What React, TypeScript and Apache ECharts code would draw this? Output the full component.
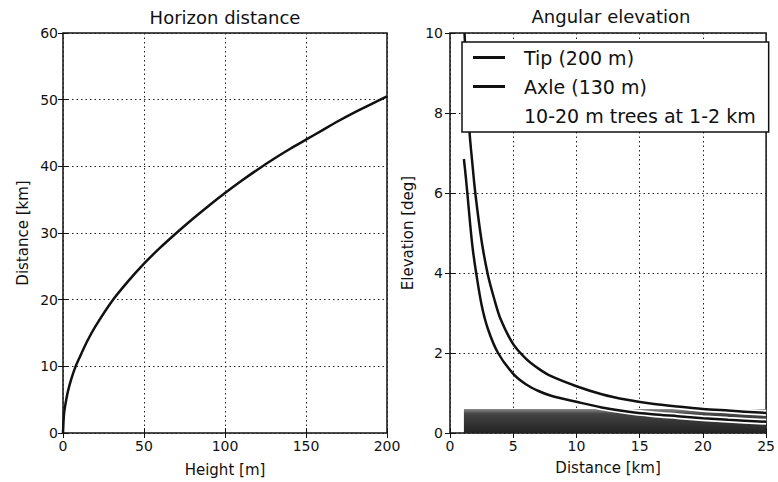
import React, { useEffect, useRef } from "react";
import * as echarts from "echarts";

// Left panel: horizon distance vs observer height
const heightM = [0, 0.5, 1, 2, 3, 5, 7.5, 10, 15, 20, 30, 40, 50, 60, 70, 80, 90, 100, 110, 120, 130, 140, 150, 160, 170, 180, 190, 200];
const horizonKm = [0, 2.5, 3.6, 5.0, 6.2, 8.0, 9.8, 11.2, 13.8, 16.0, 19.7, 22.7, 25.4, 27.8, 30.0, 32.1, 34.1, 36.0, 37.8, 39.5, 41.1, 42.6, 44.0, 45.4, 46.8, 48.1, 49.3, 50.5];

// Right panel: angular elevation vs distance
const tipDistKm = [1.15, 1.3, 1.55, 1.75, 2.0, 2.5, 3.0, 3.5, 4.0, 5.0, 6.0, 7.0, 8.0, 10, 12, 14, 16, 18, 20, 22, 25];
const tipDeg = [10.0, 8.9, 7.5, 6.8, 6.0, 4.8, 3.95, 3.35, 2.85, 2.22, 1.86, 1.61, 1.42, 1.17, 0.97, 0.83, 0.73, 0.66, 0.6, 0.56, 0.5];
const axleDistKm = [1.1, 1.25, 1.4, 1.6, 1.8, 2.07, 2.5, 3.0, 3.8, 5, 6, 7, 8, 10, 12, 14, 16, 18, 20, 22, 25];
const axleDeg = [6.85, 6.4, 5.9, 5.2, 4.6, 4.0, 3.2, 2.6, 2.0, 1.48, 1.22, 1.05, 0.93, 0.78, 0.64, 0.54, 0.47, 0.42, 0.37, 0.33, 0.28];
const treeDistKm = [1.1, 25];
const treeDeg = [0.6, 0.6];

const seriesNames = ["Tip (200 m)", "Axle (130 m)", "10-20 m trees at 1-2 km"];
const titles = ["Horizon distance", "Angular elevation"];
const axisNames = ["Height [m]", "Distance [km]", "Distance [km]", "Elevation [deg]"];

const zip = (xs: number[], ys: number[]) => xs.map((x, i) => [x, ys[i]]);

const FONT = "DejaVu Sans";
const INK = "#111";

export default function App() {
  const ref = useRef<HTMLDivElement>(null);
  useEffect(() => {
    const chart = echarts.init(ref.current!, null, { renderer: "svg" });
    const labelStyle = { color: INK, fontFamily: FONT, fontSize: 14 };
    const nameStyle = { color: INK, fontFamily: FONT, fontSize: 15 };
    const split = { show: true, lineStyle: { color: "#222", type: [1.5, 3], width: 1 } };
    const tick = { show: true, inside: true, length: 5, lineStyle: { color: INK, width: 1 } };
    const mainX = (gridIndex: number, max: number, interval: number, name: string, nameGap: number) => ({
      type: "value", gridIndex, min: 0, max, interval, position: "bottom",
      name, nameLocation: "middle", nameGap, nameTextStyle: nameStyle,
      axisLine: { show: false }, axisTick: tick, splitLine: split,
      axisLabel: { ...labelStyle, margin: 6 },
    });
    const mainY = (gridIndex: number, max: number, interval: number, name: string, nameGap: number, margin: number) => ({
      type: "value", gridIndex, min: 0, max, interval, position: "left",
      name, nameLocation: "middle", nameGap, nameTextStyle: nameStyle,
      axisLine: { show: false }, axisTick: tick, splitLine: split,
      axisLabel: { ...labelStyle, margin },
    });
    const mirrorX = (gridIndex: number, max: number, interval: number) => ({
      type: "value", gridIndex, min: 0, max, interval, position: "top",
      axisLine: { show: false }, axisTick: tick, splitLine: { show: false }, axisLabel: { show: false },
    });
    const mirrorY = (gridIndex: number, max: number, interval: number) => ({
      type: "value", gridIndex, min: 0, max, interval, position: "right",
      axisLine: { show: false }, axisTick: tick, splitLine: { show: false }, axisLabel: { show: false },
    });
    const curve = (name: string, xs: number[], ys: number[], xi: number, yi: number) => ({
      type: "line", name, xAxisIndex: xi, yAxisIndex: yi,
      data: zip(xs, ys), symbol: "none", showSymbol: false, smooth: 0.3,
      lineStyle: { color: INK, width: 2.5 }, itemStyle: { color: INK },
      z: 3,
    });
    const halo = (name: string, xs: number[], ys: number[]) => ({
      type: "line", name: name + " outline", xAxisIndex: 2, yAxisIndex: 2,
      data: zip(xs, ys).filter((p) => p[0] >= 7), symbol: "none", showSymbol: false, smooth: 0.3,
      lineStyle: { color: "#fff", width: 6 }, itemStyle: { color: "#fff" }, silent: true,
      z: 2,
    });

    chart.setOption({
      animation: false,
      backgroundColor: "#fff",
      title: [
        { text: titles[0], left: 225, top: 8, textAlign: "center", padding: 0, textStyle: { color: INK, fontFamily: FONT, fontSize: 18, fontWeight: "normal" } },
        { text: titles[1], left: 611, top: 7, textAlign: "center", padding: 0, textStyle: { color: INK, fontFamily: FONT, fontSize: 18, fontWeight: "normal" } },
      ],
      grid: [
        { left: 63, top: 33, width: 324, height: 401, show: true, borderColor: INK, borderWidth: 1.5, containLabel: false },
        { left: 450, top: 33, width: 322, height: 400, show: true, borderColor: INK, borderWidth: 1.5, containLabel: false },
      ],
      xAxis: [
        mainX(0, 200, 50, axisNames[0], 29),
        mirrorX(0, 200, 50),
        mainX(1, 25, 5, axisNames[1], 27),
        mirrorX(1, 25, 5),
      ],
      yAxis: [
        mainY(0, 60, 10, axisNames[2], 33, 5),
        mirrorY(0, 60, 10),
        mainY(1, 10, 2, axisNames[3], 35, 7),
        mirrorY(1, 10, 2),
      ],
      legend: {
        data: [
          { name: seriesNames[0], icon: "rect", itemStyle: { color: INK } },
          { name: seriesNames[1], icon: "rect", itemStyle: { color: INK } },
          { name: seriesNames[2], icon: "rect", itemStyle: { color: "rgba(0,0,0,0)", borderWidth: 0 } },
        ],
        orient: "vertical",
        left: 462,
        top: 42,
        padding: [6, 13, 7, 11],
        itemWidth: 32,
        itemHeight: 3,
        itemGap: 10,
        backgroundColor: "#fff",
        borderColor: INK,
        borderWidth: 1.5,
        borderRadius: 0,
        z: 10,
        textStyle: { color: INK, fontFamily: FONT, fontSize: 19, lineHeight: 18, padding: [0, 0, 0, 14] },
      },
      series: [
        curve("Horizon distance", heightM, horizonKm, 0, 0),
        {
          type: "line", name: seriesNames[2], xAxisIndex: 2, yAxisIndex: 2,
          data: zip(treeDistKm, treeDeg), symbol: "none", showSymbol: false,
          lineStyle: { width: 0, color: "#555" }, itemStyle: { color: "#555" },
          z: 1,
          areaStyle: {
            opacity: 1,
            color: new echarts.graphic.LinearGradient(0, 0, 0, 1, [
              { offset: 0, color: "#8c8c8c" },
              { offset: 0.2, color: "#444" },
              { offset: 1, color: "#222" },
            ]),
          },
        },
        halo(seriesNames[0], tipDistKm, tipDeg),
        halo(seriesNames[1], axleDistKm, axleDeg),
        curve(seriesNames[0], tipDistKm, tipDeg, 2, 2),
        curve(seriesNames[1], axleDistKm, axleDeg, 2, 2),
      ],
    });
    return () => chart.dispose();
  }, []);
  return (
    <div
      ref={ref}
      style={{ position: "fixed", left: 0, top: 0, width: 778, height: 482, background: "#fff" }}
    />
  );
}
